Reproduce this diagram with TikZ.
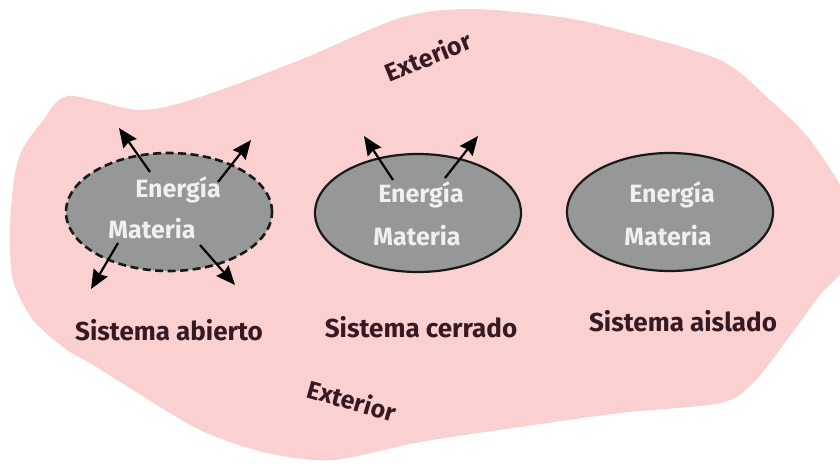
\documentclass[tikz,border=0pt]{standalone}
\usepackage{fontspec}
\setmainfont{Fira Sans}
\usetikzlibrary{shapes.geometric,arrows.meta}
\definecolor{blobpink}{RGB}{250,208,208}
\definecolor{sysgray}{RGB}{150,152,152}
\definecolor{ink}{RGB}{55,25,35}
\definecolor{wtext}{RGB}{240,240,240}
\tikzset{flowtip/.tip={Stealth[length=19pt,width=16pt,inset=2pt]}}
\begin{document}
\begin{tikzpicture}[x=1pt,y=-1pt,
  sysbox/.style={ellipse, fill=sysgray, minimum width=206pt, minimum height=118pt, line width=2.2pt, draw=black!90},
  opensys/.style={sysbox, dash pattern=on 8pt off 4.5pt, line width=2.6pt},
  intext/.style={text=wtext, font=\fontsize{25}{28}\selectfont\bfseries, inner sep=0pt},
  labeltext/.style={text=ink, font=\fontsize{26}{30}\selectfont\bfseries, inner sep=0pt},
  exttext/.style={text=ink, font=\fontsize{25}{28}\selectfont\bfseries, inner sep=0pt},
  flow/.style={-flowtip, line width=2.2pt, draw=black}
]
\useasboundingbox (0,0) rectangle (840,463);
\fill[blobpink] plot[smooth cycle, tension=0.5] coordinates {
  (68,96) (140,110) (200,97) (300,60) (400,18) (470,9) (560,17) (620,30)
  (720,60) (770,100) (810,140) (850,205) (850,260) (820,295) (787,340)
  (753,383) (720,403) (620,413) (520,427) (420,442) (333,460) (267,453)
  (200,430) (133,390) (90,363) (67,350) (33,320) (13,280) (10,230)
  (14,180) (22,150) (42,122)};

% systems
\node[opensys] (open) at (169,212) {};
\node[sysbox] (closed) at (418,213) {};
\node[sysbox] (isol) at (670,212) {};

\node[intext] (e1) at (178,190) {Energía};
\node[intext] (m1) at (152,229) {Materia};
\node[intext] (e2) at (421,195) {Energía};
\node[intext] (m2) at (417,236) {Materia};
\node[intext] (e3) at (672,195) {Energía};
\node[intext] (m3) at (668,236) {Materia};

\node[labeltext] (l1) at (169,330) {Sistema abierto};
\node[labeltext] (l2) at (421,327) {Sistema cerrado};
\node[labeltext] (l3) at (683,321) {Sistema aislado};

\node[exttext, rotate=22] (ext1) at (428,56) {Exterior};
\node[exttext, rotate=-16] (ext2) at (352,400) {Exterior};

% arrows
\coordinate (o1s) at (150,172); \coordinate (o1e) at (119,128);
\coordinate (o2s) at (218,182); \coordinate (o2e) at (251,140);
\coordinate (o3s) at (118,243); \coordinate (o3e) at (91,289);
\coordinate (o4s) at (200,245); \coordinate (o4e) at (235,285);
\coordinate (c1s) at (393,180); \coordinate (c1e) at (364,136);
\coordinate (c2s) at (445,178); \coordinate (c2e) at (478,136);
\draw[flow] (o1s) -- (o1e);
\draw[flow] (o2s) -- (o2e);
\draw[flow] (o3s) -- (o3e);
\draw[flow] (o4s) -- (o4e);
\draw[flow] (c1s) -- (c1e);
\draw[flow] (c2s) -- (c2e);
\end{tikzpicture}
\end{document}
